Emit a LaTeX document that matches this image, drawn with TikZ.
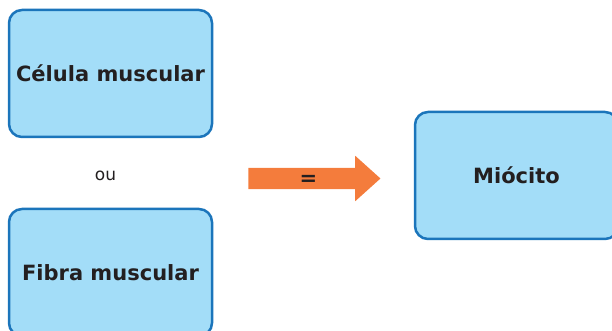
\documentclass[tikz,border=0pt]{standalone}
\usepackage{fontspec}
\setmainfont{DejaVu Sans}
\usepackage{tikz}
\usetikzlibrary{
  arrows.meta,
  shapes,
  shapes.arrows,
  positioning,
  calc
}
\definecolor{mcFill}{HTML}{A3DDF8}
\definecolor{mcLine}{HTML}{1B75BB}
\definecolor{mcArrow}{HTML}{F47C3C}
\definecolor{mcText}{HTML}{231F20}
\tikzset{
  mcnode/.style={
    draw=mcLine, fill=mcFill, line width=2.5pt, rounded corners=13pt,
    minimum width=203pt, minimum height=127pt, align=center,
    font=\fontsize{21}{25}\selectfont\bfseries, text=mcText
  },
  mcarrow/.style={
    single arrow, fill=mcArrow, draw=none, inner sep=0pt,
    minimum height=132pt, text height=17.5pt, text depth=3.5pt,
    single arrow head extend=12pt, single arrow tip angle=84,
    font=\fontsize{21}{25}\selectfont\bfseries, text=mcText
  },
  tag/.style={font=\fontsize{17}{20}\selectfont, text=mcText}
}

\begin{document}
\begin{tikzpicture}[x=1pt, y=1pt]
  \useasboundingbox (0,0) rectangle (612,331);
  \clip (0,0) rectangle (612,331);
  \node[mcnode] (celula) at (110.5,257.5) {Célula muscular};
  \node[mcnode] (fibra) at (110.5,58.5) {Fibra muscular};
  \node[tag] (ou) at (105.5,155) {ou};
  \node[mcnode] (miocito) at (516.5,155.5) {Miócito};
  \node[mcarrow] (igual) at (308.5,152.5) {=};
\end{tikzpicture}
\end{document}
